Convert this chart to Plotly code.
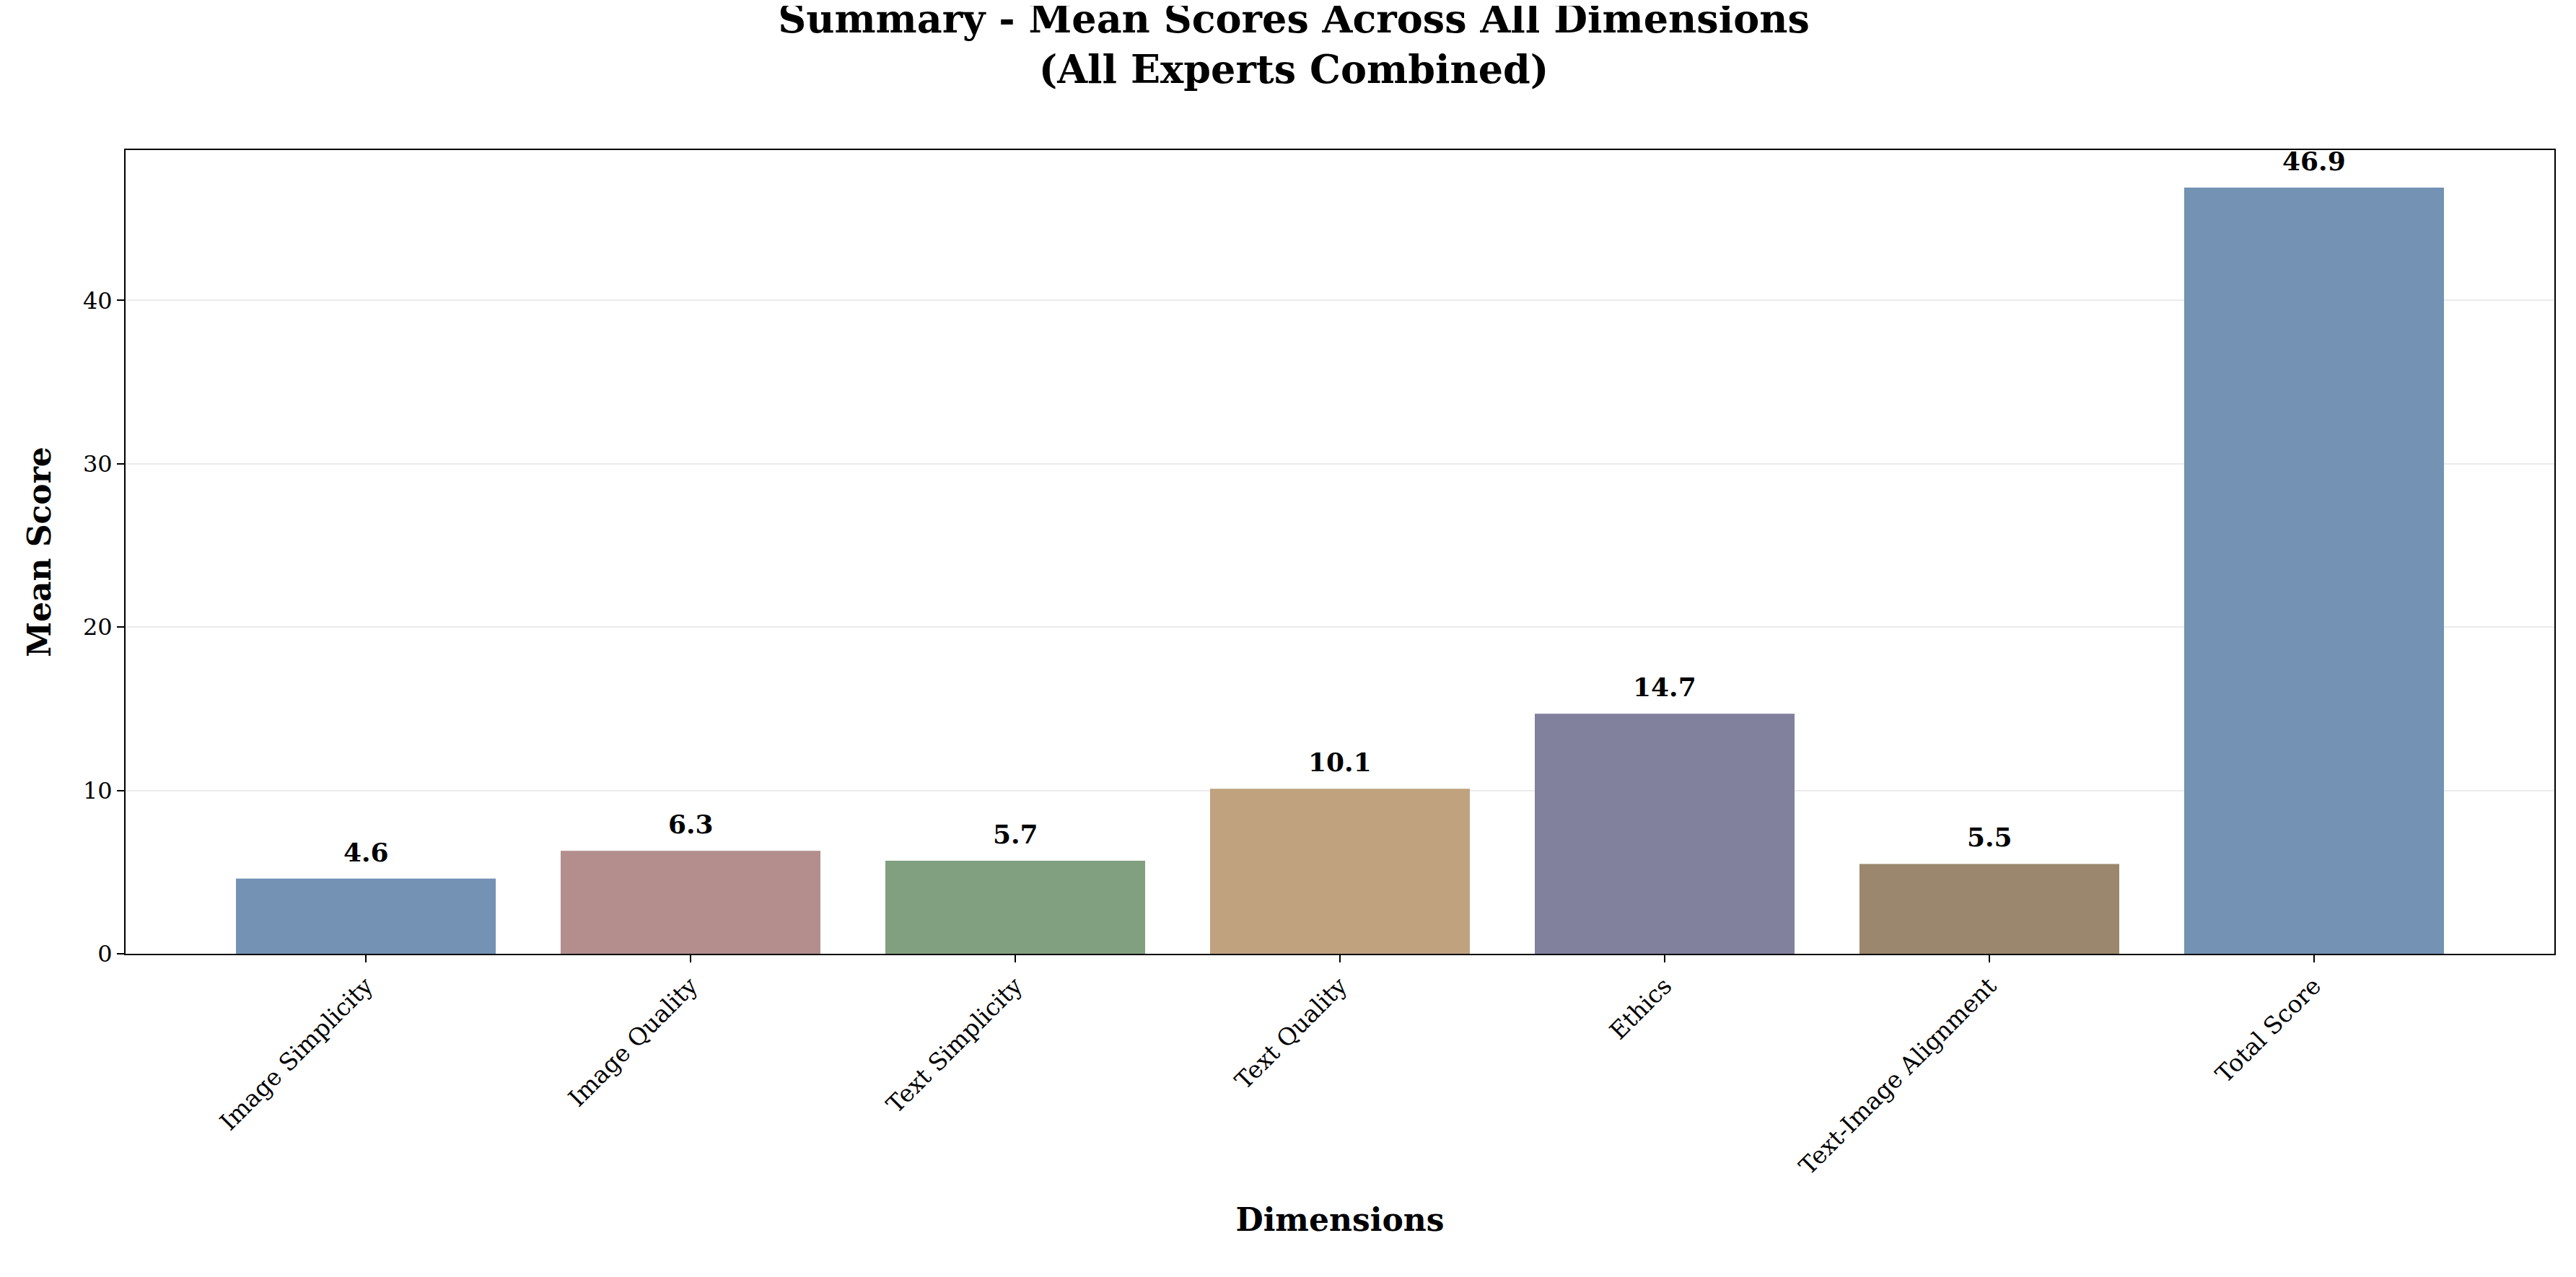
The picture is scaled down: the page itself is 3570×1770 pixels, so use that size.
import plotly.graph_objects as go

# -- Data ---------------------------------------------------------------------
DIMENSIONS = ["Image Simplicity", "Image Quality", "Text Simplicity", "Text Quality",
              "Ethics", "Text-Image Alignment", "Total Score"]
MEAN_SCORES = [4.6, 6.3, 5.7, 10.1, 14.7, 5.5, 46.9]
BAR_COLORS = ["#7392b4", "#b38e8d", "#81a07f", "#c0a27f", "#81809d", "#9b876d", "#7392b4"]
Y_TICKS = [0, 10, 20, 30, 40]

FONT = "DejaVu Serif"

fig = go.Figure()
fig.add_trace(go.Bar(
    x=DIMENSIONS, y=MEAN_SCORES, width=0.8,
    marker=dict(color=BAR_COLORS, line=dict(width=0)),
))

for name, v in zip(DIMENSIONS, MEAN_SCORES):
    fig.add_annotation(x=name, y=v, text=f"<b>{v:.1f}</b>", showarrow=False,
                       yanchor="bottom", yshift=14,
                       font=dict(family=FONT, size=36, color="black"))

fig.update_layout(
    width=3570, height=1770,
    paper_bgcolor="white", plot_bgcolor="white",
    font=dict(family=FONT, color="black"),
    title=dict(text="<b>Summary - Mean Scores Across All Dimensions<br>(All Experts Combined)</b>",
               x=0.5, xanchor="center", y=0.985, yanchor="top", pad=dict(t=10),
               font=dict(family=FONT, size=54)),
    margin=dict(l=166, r=38, t=200, b=456),
    showlegend=False,
    xaxis=dict(range=[-0.74, 6.74], tickangle=-45, ticks="outside", ticklen=10,
               tickwidth=2, tickcolor="black", tickfont=dict(size=33),
               showline=True, linecolor="black", linewidth=2, mirror=True,
               title=dict(text="<b>Dimensions</b>", font=dict(size=44), standoff=40)),
    yaxis=dict(range=[0, 49.2], tickvals=Y_TICKS, ticks="outside", ticklen=10,
               tickwidth=2, tickcolor="black", tickfont=dict(size=32),
               showgrid=True, gridcolor="rgba(0,0,0,0.08)", gridwidth=2,
               zeroline=False,
               showline=True, linecolor="black", linewidth=2, mirror=True,
               title=dict(text="<b>Mean Score</b>", font=dict(size=44), standoff=30)),
)

fig.write_html("out.html")
